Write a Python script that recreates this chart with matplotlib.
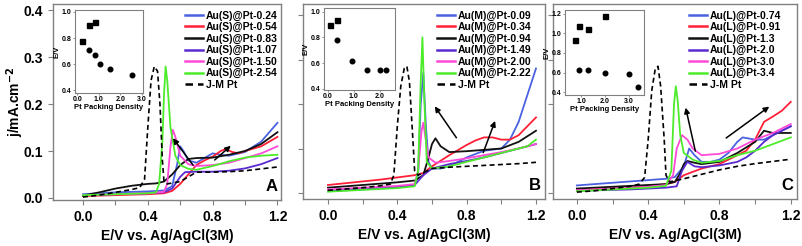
import matplotlib
matplotlib.use("Agg")
import matplotlib.pyplot as plt

plt.rcParams['font.family'] = ['Liberation Sans', 'DejaVu Sans']
plt.rcParams['font.weight'] = 'bold'

# ---- colours for the 6 samples + J-M Pt
colors = ['#4a62e0', '#ff2038', '#111111', '#5a2ad0', '#ff4ad8', '#4cec2a']

# ---- panel A: Au(S)@Pt
a_labels = ['Au(S)@Pt-0.24', 'Au(S)@Pt-0.54', 'Au(S)@Pt-0.83',
            'Au(S)@Pt-1.07', 'Au(S)@Pt-1.50', 'Au(S)@Pt-2.54']
a_x1 = [0.0, 0.1, 0.2, 0.3, 0.4, 0.5, 0.55, 0.58, 0.6, 0.62, 0.65, 0.7, 0.75, 0.8, 0.85, 0.9, 1.0, 1.1, 1.2]
a_y1 = [0.008, 0.010, 0.012, 0.013, 0.014, 0.016, 0.025, 0.07, 0.11, 0.10, 0.08, 0.075, 0.085, 0.095, 0.092, 0.09, 0.098, 0.12, 0.16]
a_x2 = [0.0, 0.1, 0.2, 0.3, 0.4, 0.5, 0.55, 0.6, 0.65, 0.7, 0.75, 0.8, 0.85, 0.88, 0.92, 0.96, 1.0, 1.1, 1.2]
a_y2 = [0.004, 0.005, 0.006, 0.007, 0.008, 0.010, 0.015, 0.03, 0.05, 0.07, 0.08, 0.088, 0.1, 0.104, 0.098, 0.095, 0.10, 0.11, 0.13]
a_x3 = [0.0, 0.1, 0.2, 0.3, 0.4, 0.45, 0.5, 0.55, 0.6, 0.65, 0.7, 0.8, 0.9, 1.0, 1.1, 1.2]
a_y3 = [0.005, 0.012, 0.02, 0.026, 0.03, 0.031, 0.035, 0.05, 0.07, 0.083, 0.085, 0.086, 0.092, 0.10, 0.115, 0.14]
a_x4 = [0.0, 0.1, 0.2, 0.3, 0.4, 0.5, 0.55, 0.6, 0.63, 0.7, 0.8, 0.9, 1.0, 1.1, 1.2]
a_y4 = [0.006, 0.007, 0.008, 0.009, 0.010, 0.012, 0.02, 0.045, 0.055, 0.056, 0.056, 0.058, 0.063, 0.072, 0.085]
a_x5 = [0.0, 0.1, 0.2, 0.3, 0.4, 0.5, 0.52, 0.54, 0.555, 0.57, 0.6, 0.65, 0.7, 0.8, 0.9, 1.0, 1.1, 1.2]
a_y5 = [0.006, 0.007, 0.008, 0.009, 0.010, 0.013, 0.03, 0.11, 0.145, 0.13, 0.09, 0.072, 0.068, 0.07, 0.075, 0.085, 0.095, 0.11]
a_x6 = [0.0, 0.1, 0.2, 0.3, 0.4, 0.45, 0.47, 0.49, 0.5, 0.51, 0.52, 0.54, 0.57, 0.6, 0.65, 0.7, 0.8, 0.9, 1.0, 1.1, 1.2]
a_y6 = [0.006, 0.007, 0.008, 0.009, 0.010, 0.012, 0.03, 0.12, 0.22, 0.28, 0.25, 0.15, 0.09, 0.07, 0.062, 0.06, 0.068, 0.078, 0.086, 0.09, 0.092]
a_xjm = [0.0, 0.1, 0.2, 0.3, 0.35, 0.38, 0.4, 0.42, 0.44, 0.46, 0.475, 0.49, 0.5, 0.52, 0.6, 0.65, 0.7, 0.8, 0.9, 1.0, 1.1, 1.2]
a_yjm = [0.002, 0.006, 0.012, 0.018, 0.022, 0.04, 0.15, 0.25, 0.28, 0.27, 0.2, 0.08, 0.035, 0.03, 0.035, 0.045, 0.055, 0.055, 0.056, 0.058, 0.062, 0.066]

# ---- panel B: Au(M)@Pt
b_labels = ['Au(M)@Pt-0.09', 'Au(M)@Pt-0.34', 'Au(M)@Pt-0.94',
            'Au(M)@Pt-1.49', 'Au(M)@Pt-2.00', 'Au(M)@Pt-2.22']
b_x1 = [0.0, 0.1, 0.2, 0.3, 0.4, 0.5, 0.52, 0.535, 0.55, 0.565, 0.58, 0.6, 0.65, 0.7, 0.8, 0.9, 1.0, 1.05, 1.1, 1.15, 1.2]
b_y1 = [0.004, 0.006, 0.008, 0.010, 0.013, 0.018, 0.04, 0.2, 0.27, 0.15, 0.07, 0.055, 0.055, 0.06, 0.08, 0.095, 0.10, 0.12, 0.16, 0.22, 0.28]
b_x2 = [0.0, 0.1, 0.2, 0.3, 0.4, 0.5, 0.55, 0.6, 0.7, 0.8, 0.85, 0.9, 0.95, 1.0, 1.05, 1.1, 1.2]
b_y2 = [0.018, 0.022, 0.026, 0.030, 0.035, 0.04, 0.045, 0.06, 0.085, 0.108, 0.118, 0.125, 0.125, 0.12, 0.12, 0.13, 0.17]
b_x3 = [0.0, 0.1, 0.2, 0.3, 0.4, 0.5, 0.55, 0.58, 0.6, 0.62, 0.65, 0.7, 0.8, 0.9, 1.0, 1.1, 1.2]
b_y3 = [0.012, 0.015, 0.018, 0.021, 0.024, 0.028, 0.04, 0.08, 0.11, 0.123, 0.105, 0.092, 0.094, 0.097, 0.10, 0.115, 0.14]
b_x4 = [0.0, 0.1, 0.2, 0.3, 0.4, 0.5, 0.55, 0.6, 0.7, 0.8, 0.9, 1.0, 1.1, 1.2]
b_y4 = [0.006, 0.008, 0.010, 0.012, 0.014, 0.018, 0.04, 0.055, 0.065, 0.072, 0.08, 0.09, 0.1, 0.11]
b_x5 = [0.0, 0.1, 0.2, 0.3, 0.4, 0.5, 0.52, 0.54, 0.55, 0.56, 0.58, 0.62, 0.7, 0.8, 0.9, 1.0, 1.1, 1.2]
b_y5 = [0.008, 0.010, 0.012, 0.014, 0.016, 0.02, 0.05, 0.14, 0.158, 0.13, 0.08, 0.068, 0.072, 0.078, 0.085, 0.092, 0.1, 0.11]
b_x6 = [0.0, 0.1, 0.2, 0.3, 0.4, 0.5, 0.52, 0.535, 0.545, 0.555, 0.57, 0.6, 0.7, 0.8, 0.9, 1.0, 1.1, 1.15, 1.2]
b_y6 = [0.003, 0.005, 0.007, 0.009, 0.011, 0.015, 0.05, 0.25, 0.35, 0.22, 0.07, 0.055, 0.06, 0.07, 0.08, 0.09, 0.10, 0.105, 0.12]
b_xjm = [0.0, 0.1, 0.2, 0.3, 0.36, 0.38, 0.4, 0.42, 0.44, 0.455, 0.47, 0.49, 0.5, 0.52, 0.6, 0.7, 0.8, 0.9, 1.0, 1.1, 1.2]
b_yjm = [0.006, 0.009, 0.012, 0.016, 0.02, 0.04, 0.15, 0.24, 0.28, 0.285, 0.25, 0.12, 0.05, 0.04, 0.055, 0.058, 0.06, 0.062, 0.064, 0.066, 0.069]

# ---- panel C: Au(L)@Pt
c_labels = ['Au(L)@Pt-0.74', 'Au(L)@Pt-0.91', 'Au(L)@Pt-1.3',
            'Au(L)@Pt-2.0', 'Au(L)@Pt-3.0', 'Au(L)@Pt-3.4']
c_x1 = [0.0, 0.1, 0.2, 0.3, 0.4, 0.5, 0.55, 0.6, 0.63, 0.66, 0.7, 0.75, 0.8, 0.85, 0.9, 0.93, 1.0, 1.05, 1.1, 1.2]
c_y1 = [0.017, 0.02, 0.023, 0.026, 0.029, 0.032, 0.036, 0.06, 0.1, 0.085, 0.07, 0.07, 0.075, 0.09, 0.115, 0.125, 0.12, 0.12, 0.13, 0.15]
c_x2 = [0.0, 0.1, 0.2, 0.3, 0.4, 0.5, 0.55, 0.6, 0.7, 0.8, 0.9, 0.95, 1.0, 1.05, 1.1, 1.15, 1.2]
c_y2 = [0.008, 0.010, 0.012, 0.014, 0.016, 0.02, 0.025, 0.04, 0.055, 0.065, 0.085, 0.095, 0.12, 0.16, 0.172, 0.185, 0.205]
c_x3 = [0.0, 0.1, 0.2, 0.3, 0.4, 0.5, 0.55, 0.58, 0.6, 0.62, 0.66, 0.7, 0.8, 0.9, 1.0, 1.05, 1.1, 1.2]
c_y3 = [0.01, 0.012, 0.014, 0.016, 0.018, 0.02, 0.025, 0.045, 0.065, 0.072, 0.068, 0.065, 0.07, 0.09, 0.115, 0.14, 0.135, 0.135]
c_x4 = [0.0, 0.1, 0.2, 0.3, 0.4, 0.5, 0.56, 0.59, 0.62, 0.66, 0.7, 0.8, 0.9, 0.95, 1.0, 1.05, 1.1, 1.2]
c_y4 = [0.005, 0.006, 0.007, 0.008, 0.01, 0.012, 0.015, 0.05, 0.07, 0.06, 0.058, 0.062, 0.07, 0.08, 0.095, 0.115, 0.13, 0.15]
c_x5 = [0.0, 0.1, 0.2, 0.3, 0.4, 0.5, 0.54, 0.56, 0.59, 0.62, 0.65, 0.7, 0.8, 0.9, 1.0, 1.1, 1.2]
c_y5 = [0.006, 0.008, 0.01, 0.012, 0.014, 0.018, 0.04, 0.1, 0.13, 0.12, 0.1, 0.085, 0.088, 0.1, 0.12, 0.135, 0.155]
c_x6 = [0.0, 0.1, 0.2, 0.3, 0.4, 0.5, 0.53, 0.545, 0.555, 0.565, 0.58, 0.6, 0.65, 0.7, 0.8, 0.9, 1.0, 1.1, 1.2]
c_y6 = [0.004, 0.006, 0.008, 0.010, 0.012, 0.016, 0.05, 0.2, 0.24, 0.21, 0.13, 0.09, 0.075, 0.068, 0.072, 0.085, 0.095, 0.11, 0.125]
c_xjm = [0.0, 0.1, 0.2, 0.3, 0.35, 0.38, 0.4, 0.42, 0.44, 0.455, 0.47, 0.49, 0.5, 0.52, 0.6, 0.7, 0.8, 0.9, 1.0, 1.1, 1.2]
c_yjm = [0.002, 0.005, 0.01, 0.015, 0.02, 0.035, 0.12, 0.23, 0.28, 0.285, 0.24, 0.12, 0.04, 0.025, 0.032, 0.042, 0.052, 0.06, 0.066, 0.071, 0.076]

# ---- insets: E/V vs Pt packing density
a_sq_x = [0.24, 0.54, 0.83]
a_sq_y = [0.78, 0.90, 0.92]
a_ci_x = [0.54, 0.83, 1.07, 1.50, 2.54]
a_ci_y = [0.71, 0.67, 0.60, 0.56, 0.52]
b_sq_x = [0.09, 0.34]
b_sq_y = [0.90, 0.94]
b_ci_x = [0.34, 0.94, 1.49, 2.00, 2.22]
b_ci_y = [0.78, 0.62, 0.55, 0.55, 0.55]
c_sq_x = [0.74, 0.91, 1.3, 2.0]
c_sq_y = [0.93, 1.08, 1.05, 1.18]
c_ci_x = [0.91, 1.3, 2.0, 3.0, 3.4]
c_ci_y = [0.63, 0.63, 0.60, 0.58, 0.45]

W, H = 802, 246
gray = '#808080'


def px_rect(l, r, t, b):
    return [l / W, (H - b) / H, (r - l) / W, (b - t) / H]


def draw_panel(ax, xs, ys, xjm, yjm, labels, xlim, ylim, letter, leg_x, arrows, show_y):
    for x, y, c, lab in zip(xs, ys, colors, labels):
        ax.plot(x, y, color=c, lw=1.3, label=lab)
    ax.plot(xjm, yjm, color='k', lw=1.2, ls=(0, (3, 2)), label='J-M Pt')
    ax.set_xlim(*xlim)
    ax.set_ylim(*ylim)
    ax.set_xticks([0.0, 0.4, 0.8, 1.2])
    ax.set_xticks([0.2, 0.6, 1.0], minor=True)
    ax.set_yticks([0.0, 0.1, 0.2, 0.3, 0.4])
    ax.tick_params(which='both', direction='out', length=3.5, width=0.8, color=gray, labelsize=10)
    if show_y:
        ax.set_yticklabels(['0.0', '0.1', '0.2', '0.3', '0.4'])
    else:
        ax.set_yticklabels([])
    ax.set_xticklabels(['0.0', '0.4', '0.8', '1.2'])
    for s in ax.spines.values():
        s.set_color(gray)
        s.set_linewidth(1.0)
    ax.set_xlabel('E/V vs. Ag/AgCl(3M)', fontsize=10, fontweight='bold', labelpad=4)
    ax.text(0.985, 0.03, letter, transform=ax.transAxes, ha='right', va='bottom',
            fontsize=12, fontweight='bold')
    for tail, head in arrows:
        ax.annotate('', xy=head, xytext=tail,
                    arrowprops=dict(arrowstyle='-|>', color='k', lw=1.1, mutation_scale=8))
    leg = ax.legend(loc='upper left', bbox_to_anchor=(leg_x / W, 1 - 10.5 / H),
                    bbox_transform=ax.figure.transFigure, frameon=False,
                    handlelength=1.7, handletextpad=0.3, labelspacing=0.14,
                    borderpad=0, borderaxespad=0, prop={'weight': 'bold', 'size': 7.5})
    for line in leg.get_lines():
        line.set_linewidth(1.8)


def draw_inset(rect, sqx, sqy, cix, ciy, xlim, ylim, xticks, yticks):
    ins = fig.add_axes(rect)
    ins.plot(sqx, sqy, 's', color='k', ms=3.6)
    ins.plot(cix, ciy, 'o', color='k', ms=3.3)
    ins.set_xlim(*xlim)
    ins.set_ylim(*ylim)
    ins.set_xticks(xticks)
    ins.set_yticks(yticks)
    ins.set_xticklabels([f'{v:.1f}' for v in xticks])
    ins.set_yticklabels([f'{v:.1f}' for v in yticks])
    ins.tick_params(direction='out', length=1.5, width=0.6, color=gray, labelsize=5, pad=1)
    for s in ins.spines.values():
        s.set_color(gray)
        s.set_linewidth(0.8)
    ins.set_xlabel('Pt Packing Density', fontsize=5.5, fontweight='bold', labelpad=0.5)
    ins.set_ylabel('E/V', fontsize=5.5, fontweight='bold', labelpad=1)


fig = plt.figure(figsize=(W / 100, H / 100), dpi=100)

axA = fig.add_axes(px_rect(53, 281, 4, 200))
axB = fig.add_axes(px_rect(303, 545, 4, 199))
axC = fig.add_axes(px_rect(553, 797, 4, 199))

draw_panel(axA, [a_x1, a_x2, a_x3, a_x4, a_x5, a_x6], [a_y1, a_y2, a_y3, a_y4, a_y5, a_y6],
           a_xjm, a_yjm, a_labels, (-0.185, 1.222), (-0.0043, 0.413), 'A', 185,
           [((0.69, 0.065), (0.545, 0.132)), ((0.80, 0.077), (0.925, 0.115))], True)
draw_panel(axB, [b_x1, b_x2, b_x3, b_x4, b_x5, b_x6], [b_y1, b_y2, b_y3, b_y4, b_y5, b_y6],
           b_xjm, b_yjm, b_labels, (-0.144, 1.252), (-0.0135, 0.425), 'B', 437,
           [((0.75, 0.119), (0.607, 0.20)), ((0.89, 0.085), (0.97, 0.168))], False)
draw_panel(axC, [c_x1, c_x2, c_x3, c_x4, c_x5, c_x6], [c_y1, c_y2, c_y3, c_y4, c_y5, c_y6],
           c_xjm, c_yjm, c_labels, (-0.134, 1.235), (-0.0135, 0.425), 'C', 689,
           [((0.668, 0.088), (0.607, 0.198)), ((0.825, 0.12), (1.092, 0.198))], False)

axA.set_ylabel('j/mA.cm$^{\\mathbf{-2}}$', fontsize=10, fontweight='bold')
axA.yaxis.set_label_coords(-0.12, 0.5)

draw_inset(px_rect(75, 143, 10, 93), a_sq_x, a_sq_y, a_ci_x, a_ci_y,
           (-0.1, 3.05), (0.38, 1.015), [0.0, 1.0, 2.0, 3.0], [0.4, 0.6, 0.8, 1.0])
draw_inset(px_rect(324, 395, 8, 90), b_sq_x, b_sq_y, b_ci_x, b_ci_y,
           (-0.15, 2.58), (0.39, 1.03), [0.0, 1.0, 2.0], [0.4, 0.6, 0.8, 1.0])
draw_inset(px_rect(565, 644, 10, 95), c_sq_x, c_sq_y, c_ci_x, c_ci_y,
           (0.33, 3.63), (0.37, 1.24), [1.0, 2.0, 3.0], [0.4, 0.6, 0.8, 1.0, 1.2])

fig.savefig('out.png', dpi=100)
